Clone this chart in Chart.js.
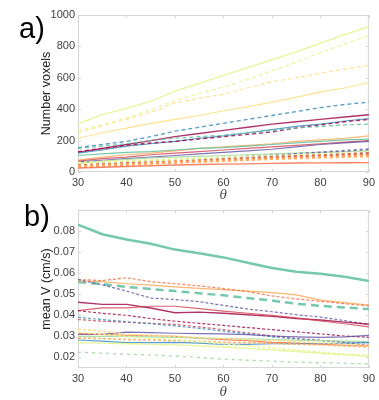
<!DOCTYPE html>
<html><head><meta charset="utf-8">
<script src="https://cdn.jsdelivr.net/npm/chart.js@4/dist/chart.umd.min.js"></script>
<style>
html,body{margin:0;padding:0;background:#fff;width:379px;height:400px;overflow:hidden;}
#c1{position:absolute;left:0;top:0;}
#c2{position:absolute;left:0;top:200px;}
.lab{position:absolute;font-family:"Liberation Sans",Arial,sans-serif;font-size:29px;color:#000;line-height:1;}
</style></head>
<body>
<canvas id="c1" width="379" height="203"></canvas>
<canvas id="c2" width="379" height="200"></canvas>
<div class="lab" style="left:19px;top:14px;">a)</div>
<div class="lab" style="left:24px;top:202px;">b)</div>
<script>
const theta = [30,35,40,45,50,55,60,65,70,75,80,85,90];
const xTicks = [30,40,50,60,70,80,90];
const yTicksA = [0,200,400,600,800,1000];
const yTicksB = [0.02,0.03,0.04,0.05,0.06,0.07,0.08];

// panel a) number of voxels
const a_yellowPale_solid = [305,365,405,450,515,565,615,665,715,765,820,875,925];
const a_yellowPale_dash  = [265,300,345,395,455,500,540,590,645,700,760,815,870];
const a_yellow_dash      = [250,295,335,380,440,470,495,535,575,600,630,655,680];
const a_yellow_solid     = [215,250,280,310,335,360,390,415,445,475,510,535,570];
const a_blue_dash        = [155,175,195,225,260,285,310,335,360,385,410,430,445];
const a_crimson_solid    = [125,150,175,200,225,245,265,285,305,320,335,350,365];
const a_blue_solid       = [120,140,165,180,195,215,230,250,270,290,305,325,340];
const a_crimson_dash     = [130,150,170,185,195,210,225,240,255,280,300,320,335];
const a_teal_dash        = [150,165,180,200,215,225,235,250,265,280,290,300,305];
const a_orange_solid     = [75,95,110,120,135,150,160,170,180,195,205,215,230];
const a_teal_solid       = [105,115,125,130,140,150,155,165,175,185,195,205,210];
const a_red_solid        = [70,85,95,110,120,130,140,150,160,170,180,190,200];
const a_purple_solid     = [65,75,85,95,105,115,125,135,145,160,175,185,195];
const a_green_solid      = [55,70,80,90,95,100,105,110,115,120,125,130,135];
const a_purple_dot       = [45,52,60,68,75,82,90,98,105,115,125,135,145];
const a_yellowPale_dot   = [58,63,68,73,78,84,90,95,100,106,112,118,125];
const a_red_dot          = [40,47,55,60,65,72,80,87,95,100,105,112,120];
const a_salmon_dot       = [35,42,48,55,62,68,75,80,88,93,98,104,110];
const a_orange_dot       = [38,44,50,56,62,67,72,78,84,88,93,97,100];
const a_salmon_solid     = [25,30,35,40,45,48,50,52,55,57,58,59,60];

// panel b) mean velocity
const b_teal_solid    = [.0830,.0785,.0760,.0740,.0712,.0695,.0675,.0650,.0625,.0607,.0597,.0583,.0563];
const b_teal_dash     = [.0558,.0548,.0535,.0525,.0515,.0505,.0495,.0482,.0470,.0455,.0445,.0437,.0430];
const b_orange_solid  = [.0563,.0560,.0550,.0543,.0535,.0528,.0522,.0515,.0508,.0497,.0472,.0460,.0448];
const b_salmon_dot    = [.0570,.0565,.0578,.0560,.0550,.0540,.0527,.0513,.0492,.0478,.0467,.0455,.0445];
const b_purple_dot    = [.0570,.0545,.0515,.0482,.0475,.0465,.0447,.0430,.0417,.0403,.0392,.0375,.0357];
const b_crimson_solid = [.0462,.0452,.0452,.0435,.0412,.0415,.0410,.0403,.0395,.0385,.0378,.0368,.0358];
const b_red_solid     = [.0422,.0435,.0435,.0443,.0443,.0432,.0420,.0410,.0400,.0388,.0373,.0360,.0345];
const b_crimson_dot   = [.0422,.0410,.0400,.0385,.0372,.0362,.0352,.0342,.0332,.0322,.0312,.0302,.0295];
const b_red_dot       = [.0380,.0372,.0367,.0362,.0357,.0345,.0332,.0317,.0303,.0290,.0282,.0270,.0258];
const b_blue_dot      = [.0390,.0380,.0370,.0360,.0350,.0338,.0325,.0312,.0298,.0288,.0280,.0275,.0270];
const b_purple_solid  = [.0310,.0310,.0320,.0318,.0315,.0313,.0312,.0308,.0302,.0298,.0295,.0298,.0305];
const b_salmon_solid  = [.0315,.0310,.0305,.0303,.0300,.0292,.0285,.0280,.0272,.0268,.0263,.0258,.0255];
const b_green_solid   = [.0300,.0300,.0300,.0298,.0295,.0292,.0290,.0288,.0285,.0282,.0280,.0278,.0275];
const b_blue_solid    = [.0283,.0278,.0270,.0270,.0272,.0268,.0262,.0262,.0265,.0265,.0265,.0268,.0270];
const b_yellowPale_solid = [.0270,.0268,.0265,.0262,.0260,.0255,.0250,.0243,.0235,.0228,.0220,.0213,.0205];
const b_yellow_dot    = [.0335,.0325,.0310,.0305,.0300,.0295,.0290,.0285,.0280,.0275,.0270,.0262,.0255];
const b_orange_dot    = [.0292,.0290,.0285,.0283,.0280,.0277,.0272,.0270,.0267,.0263,.0260,.0255,.0250];
const b_green_dot     = [.0225,.0220,.0215,.0212,.0207,.0200,.0192,.0187,.0182,.0178,.0175,.0172,.0170];
const b_yellowPale_dot= [.0320,.0310,.0300,.0292,.0285,.0275,.0265,.0255,.0245,.0235,.0225,.0215,.0210];

const C = {crimson:'rgba(158,1,66,0.8)', red:'rgba(213,62,79,0.8)', salmon:'rgba(244,109,67,0.85)',
  orange:'rgba(253,174,97,0.9)', yellow:'rgba(254,224,139,0.95)', yellowPale:'rgba(230,245,152,0.95)',
  green:'rgba(171,221,164,0.95)', teal:'rgba(102,194,165,0.9)', blue:'rgba(50,136,189,0.8)', purple:'rgba(94,79,162,0.8)'};
const SOLID = [], DASH = [4,3], DOT = [3,2], BIGDOT = [3,3];

function ds(vals, color, style, width){
  return {data: vals.map((v,i)=>({x:theta[i], y:v})), borderColor: color, borderWidth: width||1.2,
    borderDash: style, pointRadius:0, fill:false, tension:0};
}

const framePlugin = {
  id:'frame',
  beforeDatasetsDraw(chart){
    const {ctx, chartArea:a, scales:{x,y}} = chart;
    ctx.save();
    ctx.strokeStyle = '#d6d6d6'; ctx.lineWidth = 1;
    ctx.strokeRect(a.left+0.5, a.top+0.5, a.width-1, a.height-1);
    ctx.beginPath();
    x.ticks.forEach(t=>{const p=Math.round(x.getPixelForValue(t.value))+0.5;
      ctx.moveTo(p,a.bottom); ctx.lineTo(p,a.bottom-3); ctx.moveTo(p,a.top); ctx.lineTo(p,a.top+3);});
    y.ticks.forEach(t=>{const p=Math.round(y.getPixelForValue(t.value))+0.5;
      ctx.moveTo(a.left,p); ctx.lineTo(a.left+3,p); ctx.moveTo(a.right,p); ctx.lineTo(a.right-3,p);});
    ctx.stroke();
    ctx.restore();
  }
};

const tickFont = {family:'"Liberation Sans", Arial, sans-serif', size:11};
const tickColor = '#404040';

function makeOpts(yMin, yMax, yTicks, yTitle, padTop, padRight, xH, fmt){
  return {
    responsive:false, animation:false, devicePixelRatio:1,
    layout:{padding:{left:39, top:padTop, right:padRight, bottom:0}},
    plugins:{legend:{display:false}, tooltip:{enabled:false}},
    scales:{
      x:{type:'linear', min:30, max:90,
        afterBuildTicks: s=>{ s.ticks = xTicks.map(v=>({value:v})); },
        afterFit: s=>{ s.height = xH; },
        grid:{display:false, drawTicks:false}, border:{display:false},
        ticks:{padding:4, font:tickFont, color:tickColor, autoSkip:false, maxRotation:0, callback:v=>String(v)},
        title:{display:true, text:'θ', color:tickColor, padding:0,
          font:{family:'"DejaVu Serif", "Liberation Serif", serif', size:12, style:'italic'}}
      },
      y:{type:'linear', min:yMin, max:yMax,
        afterBuildTicks: s=>{ s.ticks = yTicks.map(v=>({value:v})); },
        afterFit: s=>{ s.width = 39; },
        grid:{display:false, drawTicks:false}, border:{display:false},
        ticks:{padding:3, font:tickFont, color:tickColor, autoSkip:false, callback:fmt},
        title:{display:true, text:yTitle, color:'#202020', padding:0,
          font:{family:'"Liberation Sans", Arial, sans-serif', size:12.5}}
      }
    }
  };
}

new Chart(document.getElementById('c1'), {
  type:'line',
  data:{datasets:[
    ds(a_salmon_solid, C.salmon, SOLID, 1.4),
    ds(a_orange_dot, C.orange, BIGDOT, 2.6),
    ds(a_salmon_dot, C.salmon, BIGDOT, 2.4),
    ds(a_red_dot, C.red, BIGDOT, 2.4),
    ds(a_yellowPale_dot, C.yellowPale, BIGDOT, 2.8),
    ds(a_purple_dot, C.purple, BIGDOT, 2),
    ds(a_green_solid, C.green, SOLID),
    ds(a_purple_solid, C.purple, SOLID),
    ds(a_red_solid, C.red, SOLID),
    ds(a_teal_solid, C.teal, SOLID),
    ds(a_orange_solid, C.orange, SOLID),
    ds(a_teal_dash, C.teal, DASH),
    ds(a_crimson_dash, C.crimson, DASH, 1.4),
    ds(a_blue_solid, C.blue, SOLID),
    ds(a_crimson_solid, C.crimson, SOLID, 1.4),
    ds(a_blue_dash, C.blue, DASH, 1.4),
    ds(a_yellow_solid, C.yellow, SOLID),
    ds(a_yellow_dash, C.yellow, DASH),
    ds(a_yellowPale_dash, C.yellowPale, DASH),
    ds(a_yellowPale_solid, C.yellowPale, SOLID, 1.4)
  ]},
  options: makeOpts(0, 1000, yTicksA, 'Number voxels', 15, 7, 31, v=>String(v)),
  plugins:[framePlugin]
});

new Chart(document.getElementById('c2'), {
  type:'line',
  data:{datasets:[
    ds(b_green_dot, C.green, [3,4], 1.4),
    ds(b_yellowPale_dot, C.yellowPale, DOT, 1.6),
    ds(b_yellowPale_solid, C.yellowPale, SOLID, 1.4),
    ds(b_orange_dot, C.orange, DOT, 1.6),
    ds(b_yellow_dot, C.yellow, DOT, 1.6),
    ds(b_blue_solid, C.blue, SOLID),
    ds(b_green_solid, C.green, SOLID),
    ds(b_salmon_solid, C.salmon, SOLID),
    ds(b_purple_solid, C.purple, SOLID),
    ds(b_blue_dot, C.blue, DOT),
    ds(b_red_dot, C.red, DOT),
    ds(b_crimson_dot, C.crimson, DOT),
    ds(b_red_solid, C.red, SOLID),
    ds(b_crimson_solid, C.crimson, SOLID, 1.4),
    ds(b_purple_dot, C.purple, DOT),
    ds(b_salmon_dot, C.salmon, DOT),
    ds(b_orange_solid, C.orange, SOLID),
    ds(b_teal_dash, C.teal, [8,5], 2.5),
    ds(b_teal_solid, C.teal, SOLID, 2.5)
  ]},
  options: makeOpts(0.015, 0.09, yTicksB, 'mean V (cm/s)', 10, 8, 32, v=>v.toFixed(2)),
  plugins:[framePlugin]
});
</script>
</body></html>
